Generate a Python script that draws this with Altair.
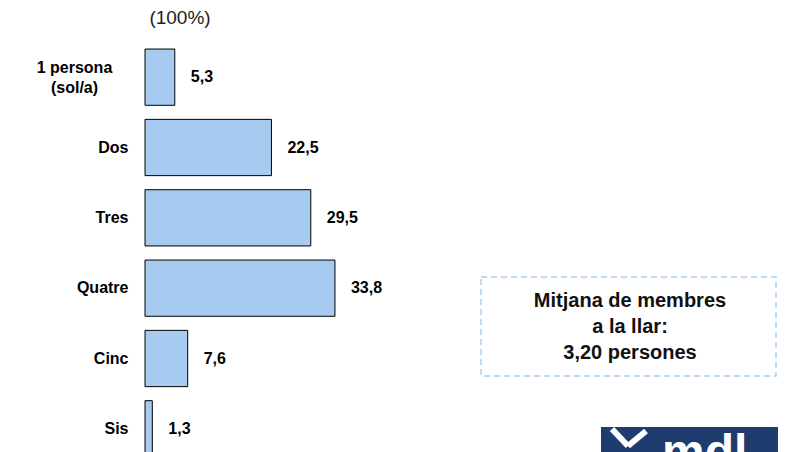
import altair as alt
import pandas as pd

# ---- data ----
categories = ["1 persona\n(sol/a)", "Dos", "Tres", "Quatre", "Cinc", "Sis"]
values = [5.3, 22.5, 29.5, 33.8, 7.6, 1.3]
value_labels = ["5,3", "22,5", "29,5", "33,8", "7,6", "1,3"]
title_text = ["(100%)"]
box_text = ["Mitjana de membres\na la llar:\n3,20 persones"]
logo_text = ["mdl"]

df = pd.DataFrame({"cat": categories, "val": values, "lab": value_labels})

FONT = "Liberation Sans"
BAR_FILL = "#A6CAF0"
MULTI = "indexof(datum.value, 'persona') >= 0"

y = alt.Y(
    "cat:N",
    sort=categories,
    scale=alt.Scale(range=[0, 422], paddingInner=0.2, paddingOuter=0.1),
    axis=alt.Axis(
        title=None, domain=False, ticks=False, grid=False,
        labelFont=FONT, labelFontSize=16,
        labelFontWeight="bold", labelColor="#000",
        labelExpr="split(datum.label, '\\n')", labelLineHeight=20,
        labelLimit=220,
        labelAlign={"condition": {"test": MULTI, "value": "center"}, "value": "right"},
        labelPadding={"condition": {"test": MULTI, "value": 71}, "value": 17},
        labelOffset={"condition": {"test": MULTI, "value": -9}, "value": 0},
    ),
)
x = alt.X("val:Q", scale=alt.Scale(domain=[0, 100], range=[0, 562]), axis=None)

bars = alt.Chart(df).mark_bar(fill=BAR_FILL, stroke="#000", strokeWidth=1).encode(x=x, y=y)

vals = alt.Chart(df).mark_text(
    align="left", baseline="middle", dx=16, font=FONT, fontSize=16,
    fontWeight="bold", color="#000",
).encode(x=x, y=y, text="lab:N")

title = alt.Chart(pd.DataFrame({"t": title_text})).mark_text(
    font=FONT, fontSize=19, color="#222", align="center", baseline="middle"
).encode(x=alt.value(35), y=alt.value(-24), text="t:N")

box = alt.Chart(pd.DataFrame({"t": box_text})).mark_rect(
    fill="white", fillOpacity=0, stroke="#A8CFF5", strokeWidth=1.5, strokeDash=[6, 4]
).encode(x=alt.value(336), x2=alt.value(631), y=alt.value(235), y2=alt.value(334))

box_label = alt.Chart(pd.DataFrame({"t": box_text})).mark_text(
    font=FONT, fontSize=20, fontWeight="bold", color="#111", align="center",
    baseline="middle", lineBreak="\n", lineHeight=26,
).encode(x=alt.value(485), y=alt.value(259), text="t:N")

logo_rect = alt.Chart(pd.DataFrame({"t": logo_text})).mark_rect(fill="#1F3C6E").encode(
    x=alt.value(456), x2=alt.value(680), y=alt.value(385), y2=alt.value(440)
)
logo_label = alt.Chart(pd.DataFrame({"t": logo_text})).mark_text(
    font=FONT, fontSize=48, fontWeight="bold", color="white", align="left",
    baseline="alphabetic",
).encode(x=alt.value(517), y=alt.value(426), text="t:N")
chev1 = alt.Chart(pd.DataFrame({"t": logo_text})).mark_rule(
    color="white", strokeWidth=6
).encode(x=alt.value(467), y=alt.value(387), x2=alt.value(483), y2=alt.value(404))
chev2 = alt.Chart(pd.DataFrame({"t": logo_text})).mark_rule(
    color="white", strokeWidth=6
).encode(x=alt.value(483), y=alt.value(404), x2=alt.value(501), y2=alt.value(389))

chart = alt.layer(
    bars, vals, title, box, box_label, logo_rect, chev1, chev2, logo_label
).properties(
    width=625, height=410,
    autosize=alt.AutoSizeParams(type="none"),
    padding={"left": 137, "top": 34, "right": 8, "bottom": 0},
    background="white",
).configure_view(stroke=None)

chart.save("out.html", embed_options={"renderer": "svg", "actions": False})
